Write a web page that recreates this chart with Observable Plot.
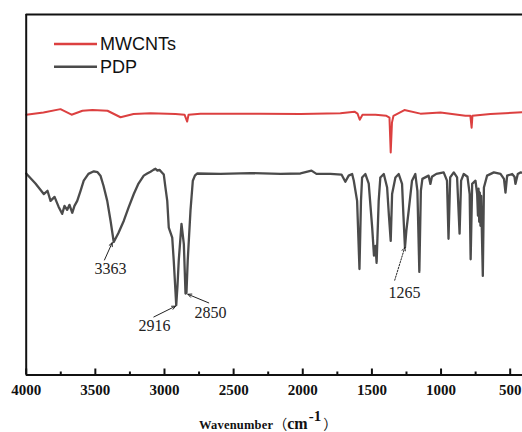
<!DOCTYPE html>
<html>
<head>
<meta charset="utf-8">
<script src="https://cdn.jsdelivr.net/npm/d3@7"></script>
<script src="https://cdn.jsdelivr.net/npm/@observablehq/plot@0.6"></script>
<style>
  html, body { margin: 0; padding: 0; background: #fff; }
  svg { display: block; }
</style>
</head>
<body>
<div id="chart"></div>
<script>
// ---- Data ----
const seriesNames = ["MWCNTs", "PDP"];
const seriesColors = ["#dc4040", "#4b4b4b"];

const mwcntsWave = [4000,3875,3752,3672,3593,3521,3412,3318,3224,3101,2920,2855,2836,2826,2740,2306,2017,1728,1626,1604,1588,1568,1474,1395,1373,1364,1355,1344,1265,1149,1004,824,788,779,773,643,411];
const mwcntsValue = [72.2,72.8,73.75,72.2,73.3,73.5,73.3,71.5,72.4,72.6,72.4,72.2,70.3,72.2,72.5,72.5,72.4,72.6,73.05,72.5,70.8,72.2,72.2,71.9,71.4,61.7,70,71.9,73.5,72.5,72.8,71.9,71.9,68.6,71.9,72.4,72.9];

const pdpWave = [4000,3933,3873,3846,3824,3795,3766,3740,3723,3704,
  3687,3667,3651,3631,3607,3584,3550,3511,3484,3463,
  3441,3414,3390,3367,3333,3294,3260,3222,3188,3150,
  3125,3101,3080,3065,3051,3036,3017,3005,2993,2980,
  2969,2944,2933,2915,2906,2897,2877,2860,2848,2841,
  2832,2812,2795,2780,2764,2595,2378,2161,2017,1937,
  1901,1800,1720,1692,1668,1643,1631,1607,1590,1579,
  1571,1547,1523,1498,1485,1474,1466,1451,1439,1414,
  1390,1377,1364,1354,1330,1306,1282,1272,1261,1251,
  1234,1210,1186,1171,1157,1146,1135,1090,1077,1066,
  1034,981,957,946,934,908,884,866,855,836,
  809,793,786,775,751,739,733,729,724,720,
  715,710,705,698,690,667,618,570,545,534,
  522,486,469,462,445,426,411];
const pdpValue = [55.9,53.1,50.2,51.1,48.3,49.4,46.7,44.7,46.9,45.8,
  47.2,45,46.9,48.3,51.1,53.9,55.8,56.5,56.25,55.3,
  52.5,48.3,42.8,36.9,39.4,42.8,46.4,50.2,53.1,55.3,
  55.9,56.4,56.9,57.2,56.7,56.9,56.1,55.6,52,48.3,
  40.9,38.1,31.7,19.4,24.7,31.7,41.9,36.3,22.6,22.8,
  31.7,45.6,53.9,55.3,55.9,55.8,56,55.8,55.9,56.7,
  55.8,55.8,55.6,53.6,55.3,55.75,53.9,48.3,29.4,48.3,
  54.8,55.75,53.1,40.9,33.1,35.8,31.1,48.3,54.8,55.75,
  52,44.2,37.2,50.2,54.8,55.75,53,44.2,35.3,40,
  45.6,53.9,55.75,51.1,28.6,51.1,54.4,55.3,53,55,
  55.8,56.2,53.9,37.8,54.8,56.2,54.8,39.2,53.9,55.75,
  55,50.2,32.1,53,53.9,50.2,44.2,51.7,42.5,50.6,
  41.4,49.7,40,27.5,52,55.3,56.2,55.8,54.4,50.6,
  55.3,55.75,55,53,55.75,56.2,56.1];

const majorTicks = [4000,3500,3000,2500,2000,1500,1000,500];
const minorTicks = [3750,3250,2750,2250,1750,1250,750];
const xDomain = [4000, 411];
const yDomain = [0, 100];

// peak annotations
const peakLabels = ["3363", "2916", "2850", "1265"];
const peakTipWave = [3378, 2920, 2831, 1262];
const peakTipValue = [36.7, 19.1, 22.4, 35.4];
const peakTailWave = [3434, 3077, 2680, 1335];
const peakTailValue = [31.9, 16.1, 20.0, 26.3];
const peakTextWave = [3390, 3072, 2667, 1265];
const peakTextValue = [29.4, 13.5, 17.2, 22.8];
const peakDashed = [false, false, false, true];

const xLabelMain = "Wavenumber";
const xLabelUnit = "cm";
const xLabelPower = "-1";

// ---- Build tables ----
const mwcnts = mwcntsWave.map((w, i) => ({w, v: mwcntsValue[i]}));
const pdp = pdpWave.map((w, i) => ({w, v: pdpValue[i]}));
const ann = peakLabels.map((label, i) => ({
  label, tw: peakTipWave[i], tv: peakTipValue[i],
  sw: peakTailWave[i], sv: peakTailValue[i],
  lw: peakTextWave[i], lv: peakTextValue[i], dashed: peakDashed[i]
}));

const W = 522, H = 432;
const mL = 25.7, mT = 14, mB = 57.5, mR = 0;
const innerH = H - mT - mB;

const plot = Plot.plot({
  width: W, height: H,
  marginLeft: mL, marginRight: mR, marginTop: mT, marginBottom: mB,
  x: {domain: xDomain},
  y: {domain: yDomain, axis: null},
  style: {background: "#fff", fontFamily: "'Liberation Serif', 'Times New Roman', serif", color: "#111", overflow: "hidden"},
  marks: [
    Plot.line(mwcnts, {x: "w", y: "v", stroke: seriesColors[0], strokeWidth: 2}),
    Plot.line(pdp, {x: "w", y: "v", stroke: seriesColors[1], strokeWidth: 2.3, strokeLinejoin: "round"}),
    // frame: left, top, bottom
    Plot.ruleX([xDomain[0]], {stroke: "#111", strokeWidth: 2}),
    Plot.ruleY([yDomain[1]], {stroke: "#111", strokeWidth: 2}),
    Plot.ruleY([yDomain[0]], {stroke: "#111", strokeWidth: 2.2}),
    // inward ticks
    Plot.ruleX(majorTicks, {stroke: "#111", strokeWidth: 2, insetTop: innerH - 6}),
    Plot.ruleX(minorTicks, {stroke: "#111", strokeWidth: 2, insetTop: innerH - 3}),
    Plot.axisX(majorTicks, {
      tickSize: 0, tickPadding: 9, tickFormat: d => String(d),
      fontSize: 15, fontWeight: "bold", fontFamily: "'Liberation Serif', serif",
      fill: "#111", label: null
    }),
    // annotations
    Plot.arrow(ann.filter(d => !d.dashed), {x1: "sw", y1: "sv", x2: "tw", y2: "tv",
      stroke: "#222", strokeWidth: 1, headLength: 6, headAngle: 50}),
    Plot.arrow(ann.filter(d => d.dashed), {x1: "sw", y1: "sv", x2: "tw", y2: "tv",
      stroke: "#222", strokeWidth: 1, headLength: 6, headAngle: 50, strokeDasharray: "1.5,1.5"}),
    Plot.text(ann, {x: "lw", y: "lv", text: "label", fontSize: 16,
      fontFamily: "'Liberation Serif', serif", fill: "#222"})
  ]
});

const svg = d3.select(plot);

// legend (inside plot, top-left)
const lg = svg.append("g")
  .attr("font-family", "'Liberation Sans', Arial, sans-serif")
  .attr("font-size", 18)
  .attr("text-anchor", "start");
seriesNames.forEach((name, i) => {
  const y = 44 + i * 22.7;
  lg.append("line").attr("x1", 54).attr("x2", 97).attr("y1", y).attr("y2", y)
    .attr("stroke", seriesColors[i]).attr("stroke-width", 2.5);
  lg.append("text").attr("x", 100).attr("y", y).attr("dy", "0.36em")
    .attr("text-anchor", "start")
    .attr("fill", "#111").text(name);
});

// x-axis title with superscript (one text element, natural flow)
const xt = svg.append("text")
  .attr("x", 199).attr("y", 429)
  .attr("text-anchor", "start")
  .attr("font-family", "'Liberation Serif', 'Times New Roman', serif")
  .attr("font-weight", "bold").attr("fill", "#111").attr("font-size", 12.5);
xt.append("tspan").attr("letter-spacing", "0.2px").text(xLabelMain);
xt.append("tspan").attr("font-size", 14)
  .attr("font-family", "'Noto Sans CJK SC', sans-serif").attr("font-weight", "normal").text("（");
xt.append("tspan").attr("font-size", 16).text(xLabelUnit);
xt.append("tspan").attr("dy", -8).attr("font-size", 15).attr("dx", 1).text(xLabelPower);
xt.append("tspan").attr("dy", 8).attr("font-size", 14).attr("dx", 2)
  .attr("font-family", "'Noto Sans CJK SC', sans-serif").attr("font-weight", "normal").text("）");

document.getElementById("chart").appendChild(plot);
</script>
</body>
</html>
